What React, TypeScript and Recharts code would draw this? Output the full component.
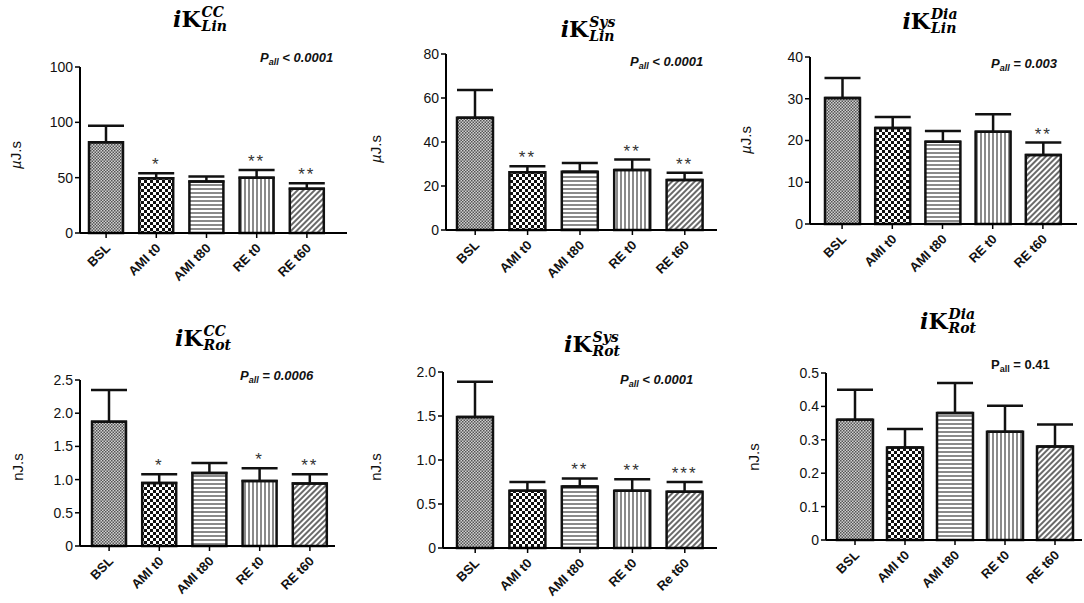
import React from 'react';
import { BarChart, Bar, XAxis, YAxis, ErrorBar, LabelList, Cell } from 'recharts';

// ---------- data ----------
const categories = ['BSL', 'AMI t0', 'AMI t80', 'RE t0', 'RE t60'];
const categoriesRotSys = ['BSL', 'AMI t0', 'AMI t80', 'RE t0', 'Re t60'];

const linCCMean = [82, 49.5, 46.5, 50, 40];
const linCCErr = [15, 4.5, 4.5, 7, 5];
const linCCStars = ['', '*', '', '**', '**'];
const linCCTicks = [0, 50, 100, 150];
const linCCTickLabels = ['0', '50', '100', '100'];

const linSysMean = [51, 26.3, 26.5, 27.3, 22.7];
const linSysErr = [12.6, 2.7, 4, 4.7, 3.3];
const linSysStars = ['', '**', '', '**', '**'];
const linSysTicks = [0, 20, 40, 60, 80];
const linSysTickLabels = ['0', '20', '40', '60', '80'];

const linDiaMean = [30.2, 23, 19.7, 22.1, 16.5];
const linDiaErr = [4.8, 2.6, 2.6, 4.2, 3];
const linDiaStars = ['', '', '', '', '**'];
const linDiaTicks = [0, 10, 20, 30, 40];
const linDiaTickLabels = ['0', '10', '20', '30', '40'];

const rotCCMean = [1.87, 0.95, 1.1, 0.98, 0.94];
const rotCCErr = [0.48, 0.13, 0.15, 0.19, 0.14];
const rotCCStars = ['', '*', '', '*', '**'];
const rotCCTicks = [0, 0.5, 1.0, 1.5, 2.0, 2.5];
const rotCCTickLabels = ['0', '0.5', '1.0', '1.5', '2.0', '2.5'];

const rotSysMean = [1.49, 0.65, 0.7, 0.65, 0.64];
const rotSysErr = [0.4, 0.1, 0.09, 0.13, 0.11];
const rotSysStars = ['', '', '**', '**', '***'];
const rotSysTicks = [0, 0.5, 1.0, 1.5, 2.0];
const rotSysTickLabels = ['0', '0.5', '1.0', '1.5', '2.0'];

const rotDiaMean = [0.36, 0.277, 0.38, 0.324, 0.28];
const rotDiaErr = [0.09, 0.055, 0.09, 0.078, 0.066];
const rotDiaStars = ['', '', '', '', ''];
const rotDiaTicks = [0, 0.1, 0.2, 0.3, 0.4, 0.5];
const rotDiaTickLabels = ['0', '0.1', '0.2', '0.3', '0.4', '0.5'];

const patternIds = ['patBSL', 'patAMI0', 'patAMI80', 'patRE0', 'patRE60'];

const SANS = '"Liberation Sans", Arial, sans-serif';
const SERIF = '"DejaVu Serif", "Liberation Serif", serif';

type PanelCfg = {
  cats: string[];
  mean: number[];
  err: number[];
  stars: string[];
  ticks: number[];
  tickLabels: string[];
  unitPrefix: string;
  unit: string;
  sup: string;
  sub: string;
  pText: string;
  pItalic: boolean;
  L: number; T: number; W: number; H: number;
  axisX: number; topY: number; zeroY: number; xEnd: number;
  padL: number; padR: number; barSize: number;
  titleX: number; titleY: number;
  pX: number; pY: number;
  yLabX: number; yLabY: number;
};

const panels: PanelCfg[] = [
  {
    cats: categories, mean: linCCMean, err: linCCErr, stars: linCCStars, ticks: linCCTicks, tickLabels: linCCTickLabels,
    unitPrefix: 'µ', unit: 'J.s', sup: 'CC', sub: 'Lin', pText: '< 0.0001', pItalic: true,
    L: 0, T: 0, W: 360, H: 290, axisX: 80, topY: 67, zeroY: 233, xEnd: 347, padL: 1, padR: 15, barSize: 34,
    titleX: 200, titleY: 5, pX: 260, pY: 58, yLabX: 15, yLabY: 155,
  },
  {
    cats: categories, mean: linSysMean, err: linSysErr, stars: linSysStars, ticks: linSysTicks, tickLabels: linSysTickLabels,
    unitPrefix: 'µ', unit: 'J.s', sup: 'Sys', sub: 'Lin', pText: '< 0.0001', pItalic: true,
    L: 360, T: 0, W: 360, H: 290, axisX: 446, topY: 54, zeroY: 230, xEnd: 717, padL: 3, padR: 6, barSize: 36,
    titleX: 588, titleY: 15, pX: 630, pY: 62, yLabX: 375, yLabY: 149,
  },
  {
    cats: categories, mean: linDiaMean, err: linDiaErr, stars: linDiaStars, ticks: linDiaTicks, tickLabels: linDiaTickLabels,
    unitPrefix: 'µ', unit: 'J.s', sup: 'Dia', sub: 'Lin', pText: '= 0.003', pItalic: true,
    L: 720, T: 0, W: 364, H: 290, axisX: 810, topY: 57, zeroY: 224, xEnd: 1077, padL: 7, padR: 9, barSize: 35,
    titleX: 930, titleY: 7, pX: 991, pY: 64, yLabX: 745, yLabY: 140,
  },
  {
    cats: categories, mean: rotCCMean, err: rotCCErr, stars: rotCCStars, ticks: rotCCTicks, tickLabels: rotCCTickLabels,
    unitPrefix: 'n', unit: 'J.s', sup: 'CC', sub: 'Rot', pText: '= 0.0006', pItalic: true,
    L: 0, T: 295, W: 360, H: 308, axisX: 80, topY: 380, zeroY: 546, xEnd: 335, padL: 4, padR: 0, barSize: 34,
    titleX: 203, titleY: 324, pX: 240, pY: 376, yLabX: 17, yLabY: 467,
  },
  {
    cats: categoriesRotSys, mean: rotSysMean, err: rotSysErr, stars: rotSysStars, ticks: rotSysTicks, tickLabels: rotSysTickLabels,
    unitPrefix: 'n', unit: 'J.s', sup: 'Sys', sub: 'Rot', pText: '< 0.0001', pItalic: true,
    L: 360, T: 295, W: 360, H: 308, axisX: 443, topY: 372, zeroY: 548, xEnd: 717, padL: 6, padR: 6, barSize: 36,
    titleX: 592, titleY: 330, pX: 620, pY: 380, yLabX: 375, yLabY: 467,
  },
  {
    cats: categories, mean: rotDiaMean, err: rotDiaErr, stars: rotDiaStars, ticks: rotDiaTicks, tickLabels: rotDiaTickLabels,
    unitPrefix: 'n', unit: 'J.s', sup: 'Dia', sub: 'Rot', pText: '= 0.41', pItalic: false,
    L: 720, T: 295, W: 364, H: 308, axisX: 826, topY: 373, zeroY: 540, xEnd: 1082, padL: 4, padR: 2, barSize: 36,
    titleX: 948, titleY: 307, pX: 991, pY: 365, yLabX: 753, yLabY: 457,
  },
];

const XTick = (props: any) => {
  const { x, y, payload } = props;
  return (
    <g transform={`translate(${x + 5},${y + 9})`}>
      <text x={0} y={0} textAnchor="end" transform="rotate(-45)" fontSize={13} fontWeight="bold" fontFamily={SANS} fill="#111">
        {payload.value}
      </text>
    </g>
  );
};

function Panel({ p }: { p: PanelCfg }) {
  const data = p.cats.map((c, i) => ({ cat: c, mean: p.mean[i], err: [0, p.err[i]], star: p.stars[i] }));
  const maxV = p.ticks[p.ticks.length - 1];
  const renderStar = (props: any) => {
    const { x, y, width, height, index, value } = props;
    if (!value) return null;
    const m = p.mean[index];
    const errTop = Number(y) - (p.err[index] * Number(height)) / m;
    return (
      <text x={Number(x) + Number(width) / 2} y={errTop - 3} textAnchor="middle" fontSize={17} fontFamily={SANS} fill="#333" letterSpacing={2}>
        {value}
      </text>
    );
  };
  return (
    <div style={{ position: 'absolute', left: p.L, top: p.T, width: p.W, height: p.H }}>
      <BarChart
        width={p.W}
        height={p.H}
        data={data}
        margin={{ top: p.topY - p.T, right: p.L + p.W - p.xEnd, left: 0, bottom: 0 }}
      >
        <XAxis
          dataKey="cat"
          interval={0}
          height={p.T + p.H - p.zeroY}
          padding={{ left: p.padL, right: p.padR }}
          axisLine={{ stroke: '#000', strokeWidth: 2 }}
          tickLine={{ stroke: '#000', strokeWidth: 1.5 }}
          tickSize={5}
          tick={<XTick />}
        />
        <YAxis
          type="number"
          domain={[0, maxV]}
          ticks={p.ticks}
          interval={0}
          width={p.axisX - p.L}
          axisLine={{ stroke: '#000', strokeWidth: 2 }}
          tickLine={{ stroke: '#000', strokeWidth: 1.5 }}
          tickSize={5}
          tickFormatter={(v: number) => p.tickLabels[p.ticks.indexOf(v)] ?? String(v)}
          tick={{ fontSize: 14, fill: '#111', fontFamily: SANS }}
        />
        <Bar dataKey="mean" barSize={p.barSize} stroke="#111" strokeWidth={2.5} isAnimationActive={false}>
          {data.map((d, i) => (
            <Cell key={d.cat} fill={`url(#${patternIds[i]})`} />
          ))}
          <ErrorBar dataKey="err" width={18} stroke="#111" strokeWidth={2.5} direction="y" />
          <LabelList dataKey="star" content={renderStar} />
        </Bar>
      </BarChart>
    </div>
  );
}

function Title({ p }: { p: PanelCfg }) {
  return (
    <div
      style={{
        position: 'absolute', left: p.titleX, top: p.titleY, transform: 'translateX(-50%)',
        display: 'flex', alignItems: 'center', fontFamily: SERIF, fontWeight: 'bold', color: '#000', whiteSpace: 'nowrap',
      }}
    >
      <span style={{ fontSize: 22 }}><i>i</i>K</span>
      <span style={{ display: 'inline-flex', flexDirection: 'column', fontStyle: 'italic', fontSize: 14, lineHeight: '14px', marginLeft: 1 }}>
        <span>{p.sup}</span>
        <span>{p.sub}</span>
      </span>
    </div>
  );
}

function PLabel({ p }: { p: PanelCfg }) {
  return (
    <div
      style={{
        position: 'absolute', left: p.pX, top: p.pY - 8, lineHeight: '16px', fontFamily: SANS, fontWeight: 'bold',
        fontStyle: p.pItalic ? 'italic' : 'normal', fontSize: 13, color: '#111', whiteSpace: 'nowrap',
      }}
    >
      P<span style={{ fontSize: 9, position: 'relative', top: 3 }}>all</span> {p.pText}
    </div>
  );
}

function YLabel({ p }: { p: PanelCfg }) {
  return (
    <div
      style={{
        position: 'absolute', left: p.yLabX, top: p.yLabY, transform: 'translate(-50%,-50%) rotate(-90deg)',
        fontFamily: SANS, fontSize: 15, color: '#111', whiteSpace: 'nowrap',
      }}
    >
      <span style={{ fontStyle: p.unitPrefix === 'µ' ? 'italic' : 'normal' }}>{p.unitPrefix}</span>{p.unit}
    </div>
  );
}

export default function App() {
  return (
    <div style={{ position: 'absolute', left: 0, top: 0, width: 1084, height: 603, background: '#fff', overflow: 'hidden' }}>
      <svg width={0} height={0} style={{ position: 'absolute' }}>
        <defs>
          <pattern id="patBSL" patternUnits="userSpaceOnUse" width={3} height={3}>
            <rect width={3} height={3} fill="#d0d0d0" />
            <rect x={0} y={0} width={1.5} height={1.5} fill="#555" />
            <rect x={1.5} y={1.5} width={1.5} height={1.5} fill="#555" />
          </pattern>
          <pattern id="patAMI0" patternUnits="userSpaceOnUse" width={6} height={6}>
            <rect width={6} height={6} fill="#fff" />
            <rect x={0} y={0} width={3} height={3} fill="#111" />
            <rect x={3} y={3} width={3} height={3} fill="#111" />
          </pattern>
          <pattern id="patAMI80" patternUnits="userSpaceOnUse" width={4} height={4}>
            <rect width={4} height={4} fill="#fff" />
            <rect x={0} y={0} width={4} height={2} fill="#8a8a8a" />
          </pattern>
          <pattern id="patRE0" patternUnits="userSpaceOnUse" width={4} height={4}>
            <rect width={4} height={4} fill="#fff" />
            <rect x={0} y={0} width={2} height={4} fill="#8a8a8a" />
          </pattern>
          <pattern id="patRE60" patternUnits="userSpaceOnUse" width={4} height={4} patternTransform="rotate(45)">
            <rect width={4} height={4} fill="#fff" />
            <rect x={0} y={0} width={2} height={4} fill="#6a6a6a" />
          </pattern>
        </defs>
      </svg>
      {panels.map((p, i) => (
        <React.Fragment key={i}>
          <Panel p={p} />
          <Title p={p} />
          <PLabel p={p} />
          <YLabel p={p} />
        </React.Fragment>
      ))}
    </div>
  );
}
